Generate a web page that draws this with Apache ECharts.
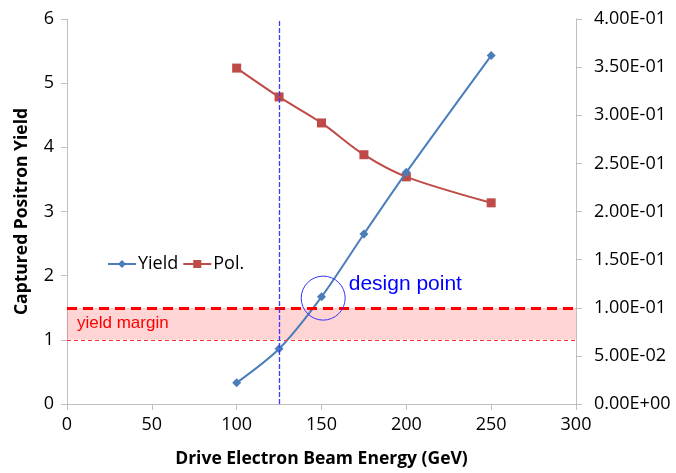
<!DOCTYPE html>
<html>
<head>
<meta charset="utf-8">
<script src="https://cdn.jsdelivr.net/npm/echarts@6/dist/echarts.min.js"></script>
<style>
  html, body { margin: 0; padding: 0; background: #fff; }
  #chart { width: 676px; height: 473px; }
</style>
</head>
<body>
<div id="chart"></div>
<script>
// beam energy (GeV)
const energy = [100, 125, 150, 175, 200, 250]
// captured positron yield (left axis)
const yieldVals = [0.33, 0.86, 1.67, 2.65, 3.61, 5.43]
// polarization (right axis)
const polVals = [0.349, 0.319, 0.292, 0.259, 0.236, 0.209]
// design + margin markers
const designEnergy = 125
const marginLow = 1.0
const marginHigh = 1.5
const designPoint = [151, 1.65]

const axisGrey = '#bfbfbf'
const labelFont = 'Open Sans'
const markBlue = '#3a3aff'

// excel style 4.00E-01
function sci(v) {
  const s = Number(v).toExponential(2).split('e')
  const e = parseInt(s[1], 10)
  return s[0] + 'E' + (e < 0 ? '-' : '+') + String(Math.abs(e)).padStart(2, '0')
}

const chart = echarts.init(document.getElementById('chart'))
chart.setOption({
  animation: false,
  textStyle: { fontFamily: labelFont },
  grid: { left: 67, right: 100, top: 19, bottom: 69 },
  legend: {
    left: 102,
    top: 250,
    itemGap: 4,
    itemWidth: 28,
    itemHeight: 10,
    textStyle: { fontSize: 18, color: '#000', fontFamily: labelFont, padding: [0, 0, 0, -3] },
    data: ['Yield', 'Pol.']
  },
  xAxis: {
    type: 'value',
    min: 0,
    max: 300,
    interval: 50,
    name: 'Drive Electron Beam Energy (GeV)',
    nameLocation: 'middle',
    nameGap: 46,
    nameTextStyle: { fontSize: 17.5, fontWeight: 'bold', color: '#000' },
    axisLine: { lineStyle: { color: axisGrey } },
    axisTick: { length: 6, lineStyle: { color: axisGrey } },
    axisLabel: { fontSize: 18, color: '#000', margin: 12 },
    splitLine: { show: false }
  },
  yAxis: [
    {
      type: 'value',
      min: 0,
      max: 6,
      interval: 1,
      name: 'Captured Positron Yield',
      nameLocation: 'middle',
      nameGap: 36,
      nameTextStyle: { fontSize: 17.5, fontWeight: 'bold', color: '#000' },
      axisLine: { show: true, lineStyle: { color: axisGrey } },
      axisTick: { show: true, length: 6, lineStyle: { color: axisGrey } },
      axisLabel: { fontSize: 18, color: '#000', margin: 13 },
      splitLine: { show: false }
    },
    {
      type: 'value',
      min: 0,
      max: 0.4,
      interval: 0.05,
      position: 'right',
      axisLine: { show: true, lineStyle: { color: axisGrey } },
      axisTick: { show: true, length: 6, lineStyle: { color: axisGrey } },
      axisLabel: { fontSize: 18, color: '#000', margin: 18, formatter: sci },
      splitLine: { show: false }
    }
  ],
  series: [
    {
      name: 'Pol.',
      type: 'line',
      yAxisIndex: 1,
      smooth: 0.3,
      symbol: 'rect',
      symbolSize: 9,
      color: '#be4b48',
      lineStyle: { width: 2, color: '#be4b48' },
      itemStyle: { color: '#be4b48' },
      data: energy.map((x, i) => [x, polVals[i]]),
      z: 3
    },
    {
      name: 'Yield',
      type: 'line',
      yAxisIndex: 0,
      smooth: 0.3,
      symbol: 'diamond',
      symbolSize: 9,
      color: '#4a7ebb',
      lineStyle: { width: 2, color: '#4a7ebb' },
      itemStyle: { color: '#4a7ebb' },
      data: energy.map((x, i) => [x, yieldVals[i]]),
      z: 4,
      markArea: {
        silent: true,
        itemStyle: { color: 'rgba(255, 40, 40, 0.2)' },
        label: {
          show: true,
          position: 'insideLeft',
          distance: 10,
          color: '#ff0000',
          fontSize: 17,
          fontFamily: 'Liberation Sans'
        },
        data: [[{ yAxis: marginLow, name: 'yield margin' }, { yAxis: marginHigh }]]
      },
      markLine: {
        silent: true,
        symbol: 'none',
        label: { show: false },
        data: [
          { yAxis: marginHigh, lineStyle: { color: '#ff0000', width: 3, type: [10, 6] } },
          { yAxis: marginLow, lineStyle: { color: '#ff3030', width: 1, type: [4, 3] } },
          [
            { coord: [designEnergy, 0], lineStyle: { color: markBlue, width: 1.3, type: [5, 2] }, itemStyle: { color: markBlue } },
            { coord: [designEnergy, 6] }
          ]
        ]
      },
      markPoint: {
        silent: true,
        symbol: 'circle',
        symbolSize: 44,
        itemStyle: { color: 'rgba(0,0,0,0)', borderColor: '#3333ff', borderWidth: 1 },
        label: {
          show: true,
          position: 'right',
          distance: 3,
          offset: [0, -14],
          color: '#0000ff',
          fontSize: 21,
          fontFamily: 'Liberation Sans',
          formatter: 'design point'
        },
        data: [{ coord: designPoint }]
      }
    }
  ]
})
</script>
</body>
</html>
